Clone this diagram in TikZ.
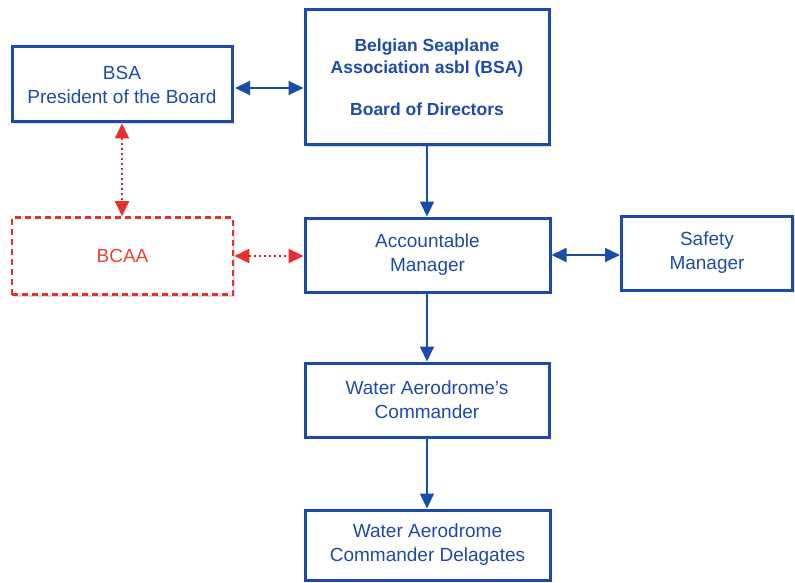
\documentclass[tikz,border=0pt]{standalone}
\usepackage{fontspec}
\setmainfont{Liberation Sans}
\usetikzlibrary{arrows.meta,shadows,calc}
\definecolor{bsablue}{HTML}{1D4CA8}
\definecolor{bsared}{HTML}{E5302C}
\definecolor{dotred}{HTML}{C42A30}
\definecolor{bcaatext}{HTML}{E8452A}
\tikzset{
  orgbox/.style={draw=bsablue, line width=3pt, fill=white, text=bsablue,
    align=center, inner sep=0pt, font=\fontsize{19}{24}\selectfont,
    drop shadow={shadow xshift=2pt, shadow yshift=-2pt, opacity=0.3}},
  redbox/.style={draw=bsared, line width=2.6pt, dash pattern=on 6pt off 4pt, fill=white,
    text=bcaatext, align=center, inner sep=0pt, font=\fontsize{19}{24}\selectfont,
    drop shadow={shadow xshift=2pt, shadow yshift=-2pt, opacity=0.25}},
  bluelink/.style={draw=bsablue, line width=1.9pt, -{Triangle[length=15pt,width=14pt]}},
  bluebi/.style={draw=bsablue, line width=1.9pt, {Triangle[length=15pt,width=14pt]}-{Triangle[length=15pt,width=14pt]}},
  redbi/.style={draw=dotred, line width=2.2pt, dash pattern=on 2.5pt off 2.5pt,
    {Triangle[length=15pt,width=14pt,color=bsared]}-{Triangle[length=15pt,width=14pt,color=bsared]}},
}
\begin{document}
\begin{tikzpicture}[x=1pt,y=-1pt]
\useasboundingbox (0,0) rectangle (795,583);
\node[orgbox, minimum width=220pt, minimum height=75pt] (pres) at (122,84.5) {BSA\\President of the Board};
\node[orgbox, minimum width=244pt, minimum height=135pt, font=\fontsize{17.5}{22}\selectfont\bfseries] (board) at (427,77.5)
  {Belgian Seaplane\\Association asbl (BSA)\\[20pt]Board of Directors};
\node[redbox, minimum width=221pt, minimum height=77pt] (bcaa) at (122.5,256) {BCAA};
\node[orgbox, minimum width=245pt, minimum height=74pt] (acc) at (427.5,255) {Accountable\\Manager};
\node[orgbox, minimum width=171pt, minimum height=74pt] (safety) at (707,253) {Safety\\Manager};
\node[orgbox, minimum width=244pt, minimum height=74pt] (wac) at (427,400) {Water Aerodrome's\\Commander};
\node[orgbox, minimum width=245pt, minimum height=70pt] (del) at (427.5,545) {Water Aerodrome\\Commander Delagates};

\coordinate (presR) at ($(pres.east)+(1.5pt,0)$);
\draw[bluebi] ([yshift=-3.5pt]presR) -- ([yshift=-3.5pt]presR -| board.west);
\draw[bluelink] (board.south) -- (board.south |- acc.north);
\draw[bluebi] (acc.east) -- (acc.east -| safety.west);
\draw[bluelink] (wac.north |- acc.south) -- (wac.north);
\draw[bluelink] (wac.south) -- (wac.south |- del.north);
\draw[redbi] (pres.south) -- (pres.south |- bcaa.north);
\draw[redbi] (bcaa.east) -- (bcaa.east -| acc.west);
\end{tikzpicture}
\end{document}
